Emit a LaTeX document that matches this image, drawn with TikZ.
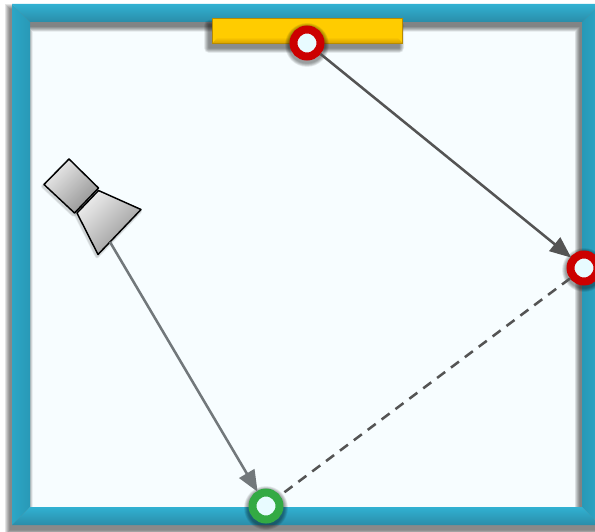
\documentclass[tikz,border=0pt]{standalone}
\usepackage{tikz}
\usetikzlibrary{arrows.meta}

\definecolor{panelblue}{HTML}{F7FDFF}
\definecolor{framelight}{HTML}{31B1D2}
\definecolor{framemid}{HTML}{2CA6C6}
\definecolor{framedark}{HTML}{2A8DA9}
\definecolor{bargold}{HTML}{FFCC00}
\definecolor{bardark}{HTML}{D9A300}
\definecolor{ringred}{HTML}{CC0000}
\definecolor{ringgreen}{HTML}{33AA44}
\definecolor{holeblue}{HTML}{E8FBFF}
\definecolor{rayslate}{HTML}{72787B}

\begin{document}
\begin{tikzpicture}[x=0.75pt,y=-0.75pt,
				softshadow/.style={black,opacity=0.055},
				redring/.style={circle,draw=ringred,fill=holeblue,line width=6pt,minimum size=20.25pt,inner sep=0pt},
				greenring/.style={circle,draw=ringgreen,fill=holeblue,line width=6pt,minimum size=20.25pt,inner sep=0pt},
				goldbar/.style={rectangle,draw=bardark!85!black,fill=bargold,line width=0.6pt,minimum width=143pt,minimum height=18.5pt,inner sep=0pt},
				camerapart/.style={draw=black,line width=1.1pt,line join=round,top color=gray!15,bottom color=gray!85,shading angle=45},
				ray/.style={line width=1.9pt,draw=black!67}]
	\useasboundingbox (0,0) rectangle (595,531);
	\clip (0,0) rectangle (595,531);
	% room
	\fill[panelblue] (21,13) rectangle (592,516);
	\foreach \w in {28,27,26,25,24,23,22,21,20,19,18}
		\draw[softshadow,line width=\w*0.75pt,line join=miter] (18.5,18) rectangle (588.5,521);
	\shade[left color=framemid,right color=framemid!92!black] (12,4) -- (30,22) -- (30,507) -- (12,525) -- cycle;
	\shade[left color=framemid!92!black,right color=framemid] (600,4) -- (582,22) -- (582,507) -- (600,525) -- cycle;
	\shade[top color=framelight,bottom color=framedark] (12,4) -- (600,4) -- (582,22) -- (30,22) -- cycle;
	\shade[top color=framelight,bottom color=framedark] (30,507) -- (582,507) -- (600,525) -- (12,525) -- cycle;
	% mirror
	\foreach \w in {5,4.5,4,3.5,3,2.5,2,1.5,1,0.5}
		\fill[softshadow,rounded corners=\w*0.75pt] (209-\w,25-\w) rectangle (399+\w,48+\w);
	\node[goldbar] (mirror) at (307.5,31) {};
	\shade[top color=bargold,bottom color=bardark] (218,37) -- (397,37) -- (402.5,43) -- (212.5,43) -- cycle;
	% camera
	\foreach \w in {4,3,2} {
		\draw[softshadow,line width=\w*0.75pt,line join=round] (68,161) -- (97.5,190) -- (73.5,215) -- (43,186.5) -- cycle;
		\draw[softshadow,line width=\w*0.75pt,line join=round] (97.5,192.5) -- (140,211.5) -- (97,256.5) -- (76,215) -- cycle;
	}
	\draw[camerapart] (69,159) -- (98.5,188) -- (74.5,213) -- (44,184.5) -- cycle;
	\draw[camerapart] (98.5,190.5) -- (141,209.5) -- (98,254.5) -- (77,213) -- cycle;
	\coordinate (lens) at (110,242);
	% ring shadows
	\foreach \cx/\cy in {307/45,584/270,266/508}
		\foreach \r in {22,21.5,21,20.5,20,19.5,19,18.5}
			\fill[softshadow] (\cx,\cy) circle[radius=\r];
	% reflection points
	\node[redring] (top) at (307,43) {};
	\node[redring] (right) at (584,268) {};
	\node[greenring] (bottom) at (266,506) {};
	% rays
	\draw[ray,-{Triangle[length=16pt,width=13pt]},shorten >=-0.75pt] (top) -- (right);
	\draw[ray,dashed,dash pattern=on 7.5pt off 5.5pt] (right) -- (bottom);
	\draw[ray,draw=rayslate,-{Triangle[length=16pt,width=13pt]},shorten >=-0.75pt] (lens) -- (bottom);
\end{tikzpicture}
\end{document}
